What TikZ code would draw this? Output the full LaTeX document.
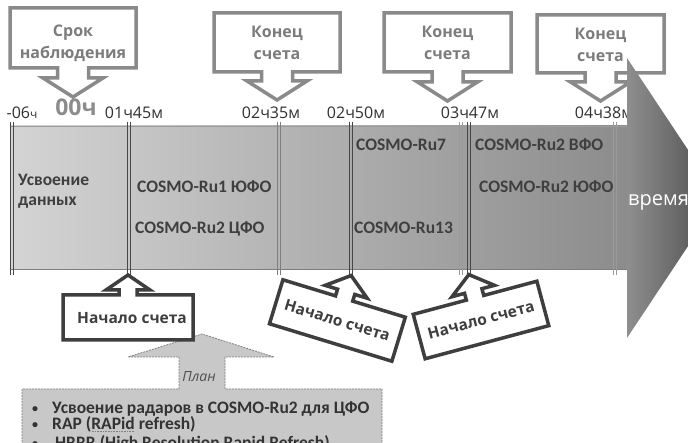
\documentclass[tikz,border=0pt]{standalone}
\usepackage{fontspec}
\setmainfont{Open Sans}
\newfontfamily\calib{Carlito}
\newlength\mydotlen
\newcommand\dotund[1]{\settowidth{\mydotlen}{#1}\rlap{\color{gray}\raisebox{-3pt}{\hbox to \mydotlen{\leaders\hbox to 1.6pt{\hss\rule{0.8pt}{0.8pt}\hss}\hfill}}}#1}
\newcommand\smbul{\makebox[21pt][l]{\hspace{1pt}\raisebox{1pt}{\fontsize{12}{12}\selectfont •}}}
\definecolor{cgray}{HTML}{8A8A8A}
\definecolor{ctext}{HTML}{7C7C7C}
\definecolor{cdark}{HTML}{3E3E3E}
\definecolor{tdark}{HTML}{303030}
\definecolor{btext}{HTML}{3F3F3F}
\definecolor{ltext}{HTML}{333333}
\definecolor{bandL}{HTML}{D4D4D4}
\definecolor{bandR}{HTML}{8C8C8C}
\definecolor{bandE}{HTML}{9C9C9C}
\definecolor{headL}{HTML}{8E8E8E}
\definecolor{headR}{HTML}{4A4A4A}
\definecolor{ldark}{HTML}{474747}
\definecolor{lmid}{HTML}{7E7E7E}
\definecolor{llight}{HTML}{9A9A9A}
\definecolor{planfill}{HTML}{C8C8C8}
\definecolor{planedge}{HTML}{808080}
\definecolor{plantext}{HTML}{4E4E4E}
\definecolor{zero}{HTML}{8C8C8C}
\tikzset{
  pics/callout/.style n args={6}{code={%
    \path[pic actions] (-#1/2,-#2/2) -- (-#3,-#2/2) -- (-#3,-#2/2-#4) -- (-#5,-#2/2-#4)
      -- (0,-#2/2-#4-#6) -- (#5,-#2/2-#4) -- (#3,-#2/2-#4) -- (#3,-#2/2)
      -- (#1/2,-#2/2) -- (#1/2,#2/2) -- (-#1/2,#2/2) -- cycle;}},
  topbox/.style={draw=cgray, fill=white, line width=3.5pt, yscale=-1},
  botbox/.style={draw=cdark, fill=white, line width=3.5pt},
  toptext/.style={align=center, text=ctext, inner sep=0pt,
    font=\bfseries\fontsize{16}{22}\selectfont},
  bottext/.style={text=cdark, inner sep=0pt, font=\bfseries\fontsize{15.5}{19}\selectfont},
  tlabel/.style={anchor=base, text=tdark, inner sep=0pt, font=\fontsize{16}{18}\selectfont},
  bandtext/.style={anchor=base west, text=btext, inner sep=0pt,
    font=\calib\bfseries\fontsize{17.5}{20}\selectfont},
  listtext/.style={anchor=base west, text=ltext, inner sep=0pt,
    font=\calib\bfseries\fontsize{17.5}{19}\selectfont},
}
\begin{document}
\begin{tikzpicture}[x=1pt,y=-1pt]
\useasboundingbox (0,0) rectangle (688,443);
\clip (0,0) rectangle (688,443);

% band
\path[left color=bandL, right color=bandR] (10,126) rectangle (627,270);
\draw[bandE, line width=0.8pt] (10,126) -- (627,126);
\draw[bandE!80!black, line width=1pt] (10,270) -- (627,270);

% double vertical lines
\foreach \xx/\cc in {12/ldark, 129/ldark, 279/lmid, 351/ldark, 461/llight, 469/ldark, 615/llight}{
  \draw[\cc, line width=1pt] (\xx-1.4,122) -- (\xx-1.4,275) (\xx+1.4,122) -- (\xx+1.4,275);
}

% time labels
\node[tlabel] (tm06) at (22,119) {-06{\fontsize{12}{13}\selectfont ч}};
\node[anchor=base, inner sep=0pt, text=zero, font=\bfseries\fontsize{23}{26}\selectfont] (t00) at (76,116) {00ч};
\node[tlabel] (t0145) at (134,119) {01ч45м};
\node[tlabel] (t0235) at (271,119) {02ч35м};
\node[tlabel] (t0250) at (356,119) {02ч50м};
\node[tlabel] (t0347) at (470,119) {03ч47м};
\node[tlabel] (t0438) at (604,119) {04ч38м};

% band texts
\node[bandtext] (uv1) at (18,186) {Усвоение};
\node[bandtext] (uv2) at (18,205.5) {данных};
\node[bandtext] (r1u) at (137,192.5) {COSMO-Ru1 ЮФО};
\node[bandtext] (r2c) at (135,233.5) {COSMO-Ru2 ЦФО};
\node[bandtext] (r7) at (356,150.5) {COSMO-Ru7};
\node[bandtext] (r13) at (354,233.5) {COSMO-Ru13};
\node[bandtext] (r2v) at (475,150.5) {COSMO-Ru2 ВФО};
\begin{scope}
  \clip (470,170) rectangle (613.3,205);
  \node[bandtext] (r2u) at (479,192.5) {COSMO-Ru2 ЮФО};
\end{scope}

% top callouts
\pic[topbox] at (73,38) {callout={126}{60}{15.5}{10}{30}{19}};
\node[toptext] (t1) at (73,43.5) {Срок\\наблюдения};
\pic[topbox] at (277,42.5) {callout={126}{59}{15.5}{9}{30}{19}};
\node[toptext] (t2) at (277,42.5) {Конец\\счета};
\pic[topbox] at (447.5,42.5) {callout={127}{59}{15.5}{10}{30}{19}};
\node[toptext] (t3) at (447.5,42.5) {Конец\\счета};
\pic[topbox] at (600.5,44) {callout={127}{58}{15.5}{9}{30}{19}};
\node[toptext] (t4) at (600.5,44.5) {Конец\\счета};

% arrow head
\path[left color=headL, right color=headR] (627,58) -- (720,198) -- (627,338) -- cycle;
\node[anchor=base west, inner sep=0pt, text=white, font=\fontsize{20}{24}\selectfont] (vr) at (628,206) {время};

% plan shape
\path[fill=planfill, draw=planedge, line width=0.8pt, dash pattern=on 2pt off 1pt]
  (22,460) -- (22,389) -- (179,389) -- (179,357) -- (128,357) -- (202,334)
  -- (274,357) -- (225,357) -- (225,389) -- (382,389) -- (382,460) -- cycle;
\node[anchor=base, inner sep=0pt, text=plantext, font=\itshape\fontsize{14}{16}\selectfont] (plan) at (199,382) {План};
\node[listtext] (l1) at (31,413.5) {\smbul Усвоение радаров в COSMO-Ru2 для ЦФО};
\node[listtext] (l2) at (31,429) {\smbul RAP (\dotund{RAPid} refresh)};
\node[listtext] (l3) at (31,448.5) {\smbul\hspace{3pt}HRRR (High Resolution Rapid Refresh)};

% bottom callouts
\pic[botbox] at (128,317.5) {callout={130}{45}{9}{5}{22}{15}};
\node[bottext] (b1) at (132,318) {Начало счета};
\pic[botbox, rotate=-17] at (337.4,320.5) {callout={128}{46}{9}{7}{22}{17}};
\node[bottext, rotate=-17] (b2) at (337.4,320.5) {Начало счета};
\pic[botbox, rotate=15] at (481,320) {callout={128}{46}{9}{7}{22}{17}};
\node[bottext, rotate=15] (b3) at (481,320) {Начало счета};
\end{tikzpicture}
\end{document}
